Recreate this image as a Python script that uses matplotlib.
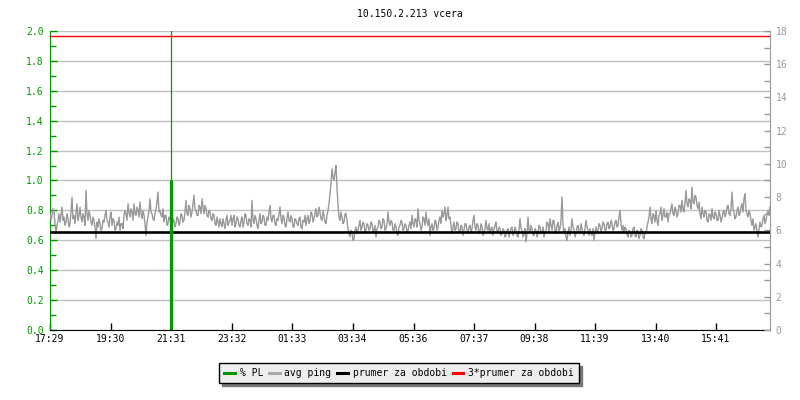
import numpy as np
import matplotlib
matplotlib.use("Agg")
import matplotlib.pyplot as plt
from matplotlib.ticker import MultipleLocator
from matplotlib.lines import Line2D

plt.rcParams['font.family'] = ['DejaVu Sans Mono']
plt.rcParams['font.size'] = 7

title = "10.150.2.213 vcera"
tick_labels = ["17:29", "19:30", "21:31", "23:32", "01:33", "03:34",
               "05:36", "07:37", "09:38", "11:39", "13:40", "15:41"]
start_label = "17:29"
period_minutes = 1440

# avg ping [ms], right axis, one reading every 2 minutes from 17:29
avg_ping = [
    7.0, 6.6, 6.9, 7.3, 7.1, 6.4, 5.8, 6.3, 6.6, 7.0, 6.5, 6.9, 7.4, 6.6, 6.8, 6.3, 6.5, 7.0, 6.7, 6.2,
    6.4, 7.1, 8.0, 6.7, 6.9, 6.4, 7.1, 7.6, 6.6, 6.9, 7.4, 6.8, 6.5, 7.0, 6.8, 6.3, 8.4, 7.0, 6.6, 7.2,
    6.9, 6.5, 6.3, 6.8, 6.6, 6.2, 5.5, 6.5, 6.2, 6.7, 6.4, 6.0, 6.1, 6.6, 6.5, 6.9, 7.2, 6.6, 6.5, 6.2,
    6.8, 7.1, 6.3, 6.7, 6.6, 6.0, 6.1, 6.5, 6.3, 6.8, 6.0, 6.4, 6.4, 6.1, 6.9, 7.2, 7.0, 6.6, 7.6, 7.1,
    6.8, 7.3, 7.1, 6.6, 7.6, 7.0, 6.9, 7.4, 7.2, 6.8, 7.7, 7.0, 6.7, 7.2, 6.9, 6.4, 5.7, 6.5, 6.8, 7.2,
    7.9, 7.1, 7.0, 6.7, 6.6, 7.0, 7.3, 7.7, 8.3, 7.1, 7.2, 6.9, 6.8, 7.3, 6.5, 6.9, 6.9, 6.3, 6.4, 6.8,
    6.7, 6.4, 6.1, 6.7, 6.6, 6.2, 6.4, 6.8, 6.7, 6.3, 6.5, 7.0, 6.9, 6.5, 6.6, 7.1, 7.8, 7.0, 6.9, 7.5,
    7.3, 6.8, 7.1, 7.6, 8.1, 7.3, 7.2, 6.9, 6.9, 7.5, 7.4, 7.0, 7.9, 7.4, 7.0, 7.5, 7.3, 6.9, 6.8, 7.2,
    7.1, 6.7, 6.6, 7.0, 6.9, 6.4, 6.3, 6.8, 6.5, 6.2, 6.7, 6.4, 6.2, 6.7, 6.4, 6.1, 6.6, 6.9, 6.3, 6.5,
    6.6, 6.9, 6.3, 6.7, 6.9, 6.2, 6.4, 6.8, 6.7, 6.3, 6.2, 6.6, 6.8, 6.2, 6.5, 7.0, 6.9, 6.4, 6.3, 6.7,
    6.6, 6.2, 7.8, 6.6, 6.4, 6.9, 6.7, 6.3, 6.1, 6.6, 7.0, 6.4, 6.5, 6.9, 6.8, 6.3, 6.3, 6.8, 6.6, 7.1,
    7.5, 6.7, 6.5, 6.9, 6.9, 6.4, 6.3, 6.7, 6.6, 7.0, 7.4, 6.7, 6.4, 6.9, 6.8, 6.3, 6.2, 6.7, 7.1, 6.6,
    6.5, 6.9, 6.7, 6.2, 6.2, 6.7, 6.6, 6.4, 6.3, 6.7, 6.8, 6.2, 6.1, 6.6, 6.5, 6.9, 6.3, 6.7, 6.9, 6.4,
    6.6, 7.1, 7.0, 6.5, 6.7, 7.0, 7.3, 6.8, 6.9, 7.4, 7.1, 6.7, 6.6, 7.2, 6.9, 6.5, 6.4, 6.9, 7.2, 7.6,
    8.2, 8.8, 9.7, 9.2, 9.0, 9.5, 9.9, 8.6, 7.5, 6.8, 6.6, 7.1, 6.8, 6.4, 6.5, 7.0, 7.0, 6.6, 6.1, 5.8,
    5.6, 6.0, 5.9, 5.4, 5.5, 6.0, 6.2, 5.8, 6.0, 6.3, 6.6, 6.0, 6.2, 6.5, 6.4, 5.9, 6.0, 6.4, 6.3, 6.0,
    6.1, 6.5, 6.4, 5.9, 6.0, 6.3, 5.6, 6.1, 6.2, 6.6, 6.5, 6.1, 6.2, 6.7, 6.6, 6.0, 6.1, 6.4, 7.1, 6.5,
    6.3, 6.6, 6.5, 6.0, 6.0, 6.4, 6.2, 5.8, 5.7, 6.2, 6.3, 6.6, 6.5, 6.0, 6.1, 6.4, 6.3, 5.9, 6.0, 6.3,
    6.5, 6.1, 6.9, 6.4, 6.2, 6.7, 6.6, 6.2, 7.3, 6.6, 6.4, 6.0, 6.2, 6.8, 6.7, 6.3, 7.1, 6.5, 6.3, 6.7,
    5.7, 6.2, 6.4, 6.0, 6.1, 6.6, 6.5, 6.0, 6.2, 6.6, 6.8, 6.4, 7.2, 6.8, 7.0, 7.4, 6.6, 6.9, 7.4, 6.7,
    6.8, 6.3, 5.8, 6.2, 6.5, 6.0, 6.1, 6.5, 6.4, 5.9, 5.9, 6.3, 6.2, 5.7, 6.0, 6.4, 6.4, 6.0, 5.8, 6.2,
    6.3, 5.9, 6.1, 6.6, 6.9, 6.2, 6.0, 6.4, 6.3, 5.8, 5.9, 6.4, 6.2, 5.7, 5.8, 6.1, 6.6, 6.1, 6.0, 6.4,
    5.8, 6.1, 6.2, 5.7, 6.0, 6.3, 6.5, 5.9, 5.9, 6.2, 6.1, 5.7, 5.8, 6.1, 6.0, 5.6, 5.7, 6.0, 6.1, 5.6,
    5.9, 6.1, 6.2, 5.7, 5.8, 6.2, 6.0, 5.7, 5.6, 6.0, 6.7, 6.1, 6.0, 5.6, 5.8, 6.1, 5.3, 5.8, 6.8, 6.0,
    5.9, 6.3, 6.1, 5.7, 5.7, 6.1, 6.0, 5.6, 5.8, 6.3, 6.2, 5.8, 5.9, 6.2, 5.6, 5.9, 6.0, 6.5, 6.4, 5.9,
    6.7, 6.3, 6.0, 6.6, 6.6, 6.0, 5.8, 6.3, 6.5, 6.0, 6.1, 6.6, 8.0, 6.3, 5.8, 6.1, 5.6, 5.4, 5.9, 6.2,
    5.7, 6.0, 6.7, 6.2, 6.0, 5.6, 5.8, 6.2, 6.3, 5.8, 5.9, 6.4, 6.1, 5.8, 5.7, 6.1, 6.6, 6.2, 6.0, 5.7,
    6.1, 5.8, 5.7, 6.1, 5.4, 5.9, 6.2, 5.8, 6.0, 6.4, 6.3, 5.9, 6.1, 6.5, 6.4, 6.0, 6.0, 6.4, 6.5, 6.1,
    6.2, 6.6, 6.4, 6.0, 6.1, 6.5, 6.6, 6.2, 6.3, 6.8, 7.2, 6.4, 6.0, 6.3, 5.8, 6.2, 6.1, 5.7, 5.6, 6.0,
    5.9, 5.6, 5.7, 6.1, 6.2, 5.7, 5.6, 6.0, 5.9, 5.5, 5.7, 6.1, 6.0, 5.6, 5.5, 5.9, 5.8, 6.2, 6.5, 6.8,
    7.4, 6.7, 6.4, 7.0, 6.9, 6.5, 7.2, 6.6, 6.3, 6.9, 7.0, 7.4, 6.6, 6.9, 7.3, 6.8, 6.8, 7.1, 6.5, 7.0,
    7.0, 7.3, 7.6, 7.0, 6.9, 7.4, 7.2, 6.8, 7.0, 7.5, 7.5, 7.1, 7.8, 7.3, 7.1, 7.7, 8.4, 7.6, 7.4, 7.9,
    7.8, 7.3, 8.6, 7.7, 7.6, 8.1, 8.0, 7.5, 7.3, 7.7, 7.0, 6.7, 7.4, 7.0, 6.8, 7.2, 7.1, 6.6, 6.5, 7.0,
    6.9, 6.6, 7.3, 6.8, 6.7, 7.1, 7.0, 6.6, 6.6, 7.2, 6.9, 6.5, 6.7, 7.1, 7.2, 6.8, 7.0, 7.4, 7.5, 7.0,
    6.9, 7.3, 8.3, 7.3, 7.1, 6.7, 6.8, 7.2, 7.4, 6.9, 7.0, 7.4, 7.6, 7.1, 7.9, 8.2, 7.2, 7.0, 6.8, 7.2,
    7.0, 6.6, 6.3, 6.7, 6.0, 6.2, 6.4, 5.9, 5.6, 6.1, 6.5, 6.2, 6.3, 6.7, 6.9, 6.4, 6.6, 7.0, 7.2, 6.9,
    7.4,
]

pl_times = ["21:31"]       # % packet loss events
pl_values = [1.0]
period_mean = 5.9          # prumer za obdobi [ms]

left_max, left_step = 2.0, 0.2
right_max, right_step = 18, 2

green = "#009900"
gray_axis = "#999999"


def minutes_from_start(label):
    h, m = map(int, label.split(":"))
    h0, m0 = map(int, start_label.split(":"))
    return ((h * 60 + m) - (h0 * 60 + m0)) % 1440


fig = plt.figure(figsize=(8, 4), dpi=100)
ax = fig.add_axes([50 / 800, 70 / 400, 720 / 800, 299 / 400])
ax2 = ax.twinx()
ax3 = ax.twinx()

t = np.linspace(0, period_minutes, len(avg_ping))

# left axis (grid)
ax.set_xlim(0, period_minutes)
ax.set_ylim(0, left_max)
ax.yaxis.set_major_locator(MultipleLocator(left_step))
ax.yaxis.set_minor_locator(MultipleLocator(left_step / 2))
ax.yaxis.set_major_formatter(matplotlib.ticker.FormatStrFormatter("%.1f"))
ax.grid(axis="y", color="#c0c0c0", lw=1)
ax.set_axisbelow(True)
ax.set_xticks([minutes_from_start(l) for l in tick_labels])
ax.set_xticklabels(tick_labels)
ax.tick_params(axis="x", direction="in", length=5, width=1, color="black", pad=3)
ax.tick_params(axis="y", which="major", direction="in", length=5, width=1,
               color=green, labelcolor=green, pad=4.5)
ax.tick_params(axis="y", which="minor", direction="in", length=4, width=1, color=green)
for s in ["top", "right"]:
    ax.spines[s].set_visible(False)
ax.spines["left"].set_color(green)
ax.spines["bottom"].set_color("black")

# right axis: avg ping
ax2.set_ylim(0, right_max)
ax2.plot(t, avg_ping, color="#999999", lw=1, zorder=2)
ax2.axhline(period_mean, color="black", lw=1.9, zorder=3)
ax2.axhline(3 * period_mean, color="red", lw=1, zorder=3)
ax2.yaxis.set_major_locator(MultipleLocator(right_step))
ax2.yaxis.set_minor_locator(MultipleLocator(right_step / 2))
ax2.tick_params(axis="y", which="both", direction="in", length=4, width=1,
                color=gray_axis, labelcolor=gray_axis, pad=4)
for s in ["top", "left", "bottom"]:
    ax2.spines[s].set_visible(False)
ax2.spines["right"].set_color(gray_axis)

# packet loss on left scale
ax3.set_ylim(0, left_max)
ax3.set_xlim(0, period_minutes)
for pt, pv in zip(pl_times, pl_values):
    x = minutes_from_start(pt)
    ax3.axvline(x, color=green, lw=0.9)
    ax3.vlines(x, 0, pv, color=green, lw=2.3)
ax3.axis("off")

fig.text(410 / 800, 1 - 14 / 400, title, ha="center", va="center", fontsize=7)

handles = [Line2D([], [], color=green, lw=2.2),
           Line2D([], [], color="#aaaaaa", lw=2.2),
           Line2D([], [], color="black", lw=2.2),
           Line2D([], [], color="red", lw=2.2)]
labels = ["% PL", "avg ping", "prumer za obdobi", "3*prumer za obdobi"]
leg = fig.legend(handles, labels, loc="center", bbox_to_anchor=(399 / 800, 1 - 373 / 400),
                 ncol=4, handlelength=1.1, handletextpad=0.5, columnspacing=0.6,
                 borderpad=0.5, fancybox=False, frameon=True,
                 shadow={"color": "#777777", "alpha": 1}, fontsize=7)
leg.get_frame().set_facecolor("#eeeeee")
leg.get_frame().set_edgecolor("black")
leg.get_frame().set_linewidth(1)
leg.get_frame().set_alpha(1)

fig.savefig("out.png", dpi=100)
